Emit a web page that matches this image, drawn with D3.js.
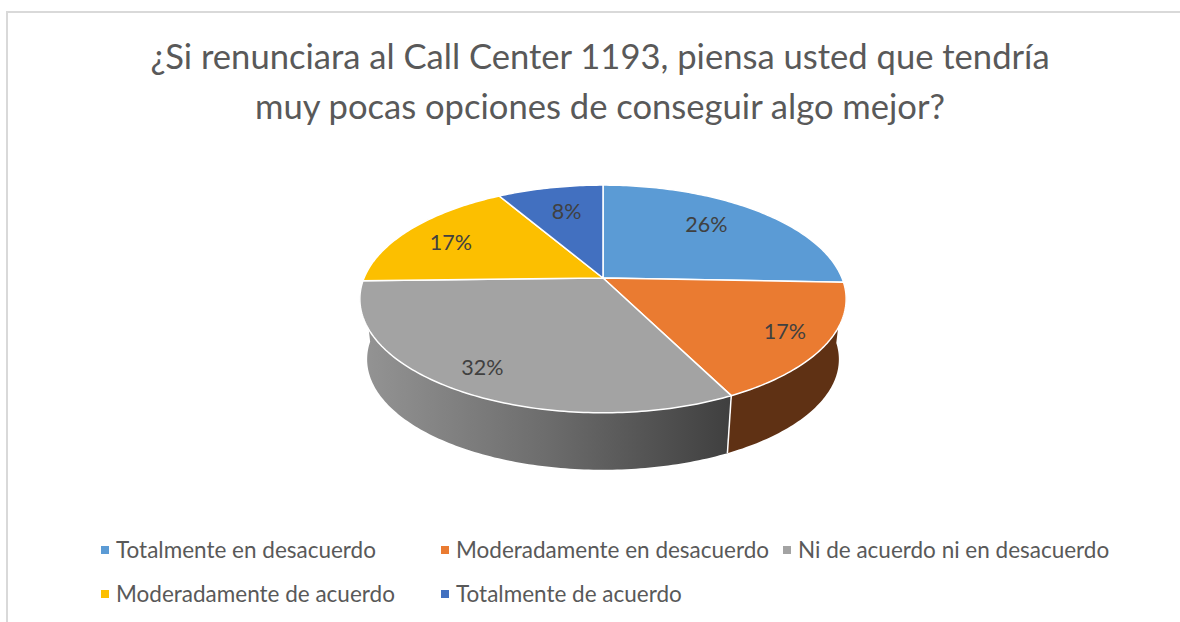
<!DOCTYPE html>
<html><head><meta charset="utf-8">
<script src="https://cdnjs.cloudflare.com/ajax/libs/d3/7.8.5/d3.min.js"></script>
<style>html,body{margin:0;padding:0;background:#fff}svg{display:block}text{font-family:Lato,"Open Sans",sans-serif}</style>
</head><body><div id="c"></div>
<script>
const titleLines = ["¿Si renunciara al Call Center 1193, piensa usted que tendría","muy pocas opciones de conseguir algo mejor?"];
const categories = ["Totalmente en desacuerdo","Moderadamente en desacuerdo","Ni de acuerdo ni en desacuerdo","Moderadamente de acuerdo","Totalmente de acuerdo"];
const values = [25.6,17,32,17,8.4];
const colors = ["#5b9bd5","#ea7b31","#a3a3a3","#fcbf00","#4270c0"];
const wallColors = ["#2f5f8c","#5f3114","url(#wallGray)","#8a6800","#2a4680"];

const W=1180,H=622;
const svg=d3.select("#c").append("svg").attr("width",W).attr("height",H);

// frame
svg.append("path").attr("d",`M7,622V12H1180`).attr("fill","none").attr("stroke","#d9d9d9").attr("stroke-width",2);

// title
svg.append("g").selectAll("text").data(titleLines).join("text")
  .attr("x",600).attr("y",(d,i)=>69+i*50).attr("text-anchor","middle")
  .attr("fill","#595959").attr("font-size",34.6).text(d=>d);

// perspective pie
const apexX=603, apexY=278, rimDepth=61, rimScale=0.97;
const a=239, b=110, k=0.184;
const sx=d3.scaleLinear().domain([-1,1]).range([-a,a]);
const sy=d3.scaleLinear().domain([-1,1]).range([b,-b]);
function proj(theta,r,depth){
  const u=r*Math.sin(theta), v=r*Math.cos(theta), w=1+k*v;
  const s=depth?rimScale:1;
  return [apexX+s*sx(u)/w, apexY+(depth?rimDepth:0)+s*sy(v)/w];
}
const line=d3.line();
function samples(t0,t1){const n=Math.max(2,Math.ceil((t1-t0)*60));return d3.range(n+1).map(i=>t0+(t1-t0)*i/n);}
const arcs=d3.pie().sort(null)(values);

// gradient for the grey wall
const g0=proj(arcs[2].startAngle,1,1), g1=proj(Math.PI*1.5,1,1);
const grad=svg.append("defs").append("linearGradient").attr("id","wallGray")
  .attr("gradientUnits","userSpaceOnUse").attr("x1",g1[0]).attr("x2",g0[0]).attr("y1",0).attr("y2",0);
[[0,"#929292"],[0.5,"#6c6c6c"],[1,"#404040"]].forEach(s=>grad.append("stop").attr("offset",s[0]).attr("stop-color",s[1]));

// walls: only the slices facing the viewer show one
const frontA=arcs[0].endAngle, frontB=arcs[2].endAngle;
const walls=arcs.map((d,i)=>({i,t0:Math.max(d.startAngle,frontA),t1:Math.min(d.endAngle,frontB)})).filter(d=>d.t1>d.t0);
svg.append("g").selectAll("path").data(walls).join("path")
  .attr("d",d=>{
    const ts=samples(d.t0,d.t1);
    return line(ts.map(t=>proj(t,1,0)).concat(ts.slice().reverse().map(t=>proj(t,1,1))))+"Z";
  }).attr("fill",d=>wallColors[d.i]);
// wall seam
const seam=arcs[1].endAngle;
svg.append("path").attr("d",line([proj(seam,1,0),proj(seam,1,1)])).attr("stroke","#fff").attr("stroke-width",1.5).attr("fill","none");

// top faces
svg.append("g").selectAll("path").data(arcs).join("path")
  .attr("d",d=>line([[apexX,apexY]].concat(samples(d.startAngle,d.endAngle).map(t=>proj(t,1,0))))+"Z")
  .attr("fill",(d,i)=>colors[i]).attr("stroke","#fff").attr("stroke-width",1.5).attr("stroke-linejoin","round");

// data labels
const labelRadius=[.65,.83,.85,.78,.65], labelShift=[-8,0,-3,4,-5];
const fmt=d3.format(".0%"), total=d3.sum(values);
svg.append("g").selectAll("text").data(arcs).join("text")
  .attr("x",(d,i)=>proj((d.startAngle+d.endAngle)/2,labelRadius[i],0)[0])
  .attr("y",(d,i)=>proj((d.startAngle+d.endAngle)/2,labelRadius[i],0)[1]+labelShift[i])
  .attr("dy","0.35em").attr("text-anchor","middle").attr("fill","#404040").attr("font-size",21.5)
  .text(d=>fmt(d.value/total));

// legend
const legX=[101,441,783,101,441], legY=[550,550,550,594,594];
const leg=svg.append("g").selectAll("g").data(categories).join("g")
  .attr("transform",(d,i)=>`translate(${legX[i]},${legY[i]})`);
leg.append("rect").attr("x",0).attr("y",-4).attr("width",8).attr("height",8).attr("fill",(d,i)=>colors[i]);
leg.append("text").attr("x",15).attr("dy","0.35em").attr("fill","#595959").attr("font-size",22.5).text(d=>d);
</script></body></html>
